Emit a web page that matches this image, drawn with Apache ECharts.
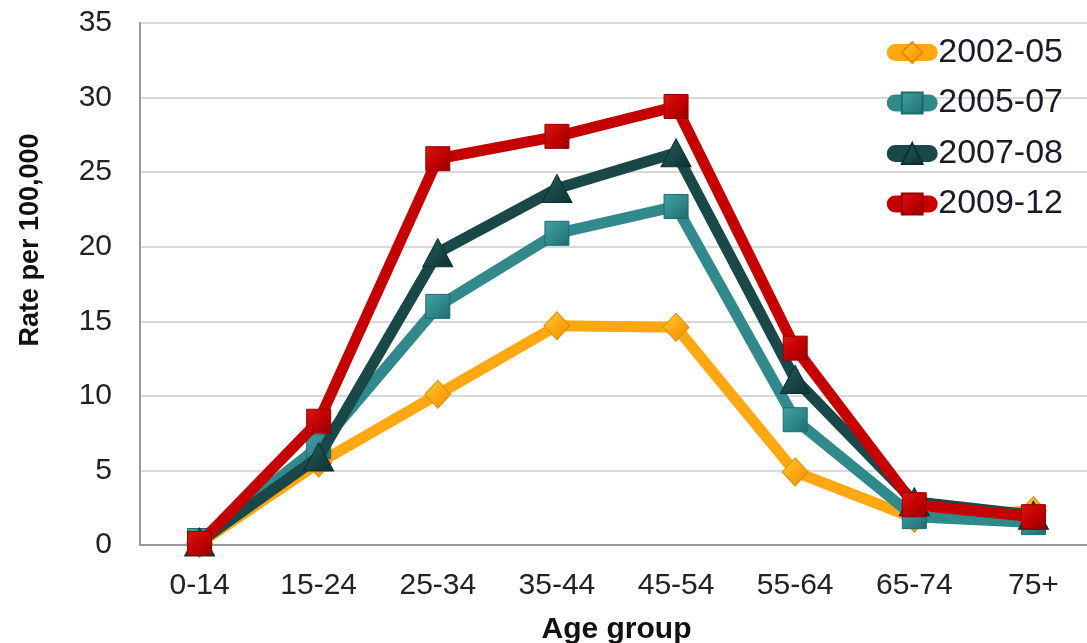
<!DOCTYPE html>
<html>
<head>
<meta charset="utf-8">
<script src="https://cdn.jsdelivr.net/npm/echarts@6/dist/echarts.min.js"></script>
<style>
  html, body { margin: 0; padding: 0; background: #fff; }
  #chart { width: 1087px; height: 643px; }
</style>
</head>
<body>
<div id="chart"></div>
<script>
// Age groups along the x axis
const ageGroups = ['0-14', '15-24', '25-34', '35-44', '45-54', '55-64', '65-74', '75+'];

// Rate per 100,000 by period
const rate2002_05 = [0.1, 5.5, 10.1, 14.7, 14.6, 4.9, 1.8, 2.3];
const rate2005_07 = [0.3, 6.6, 16.0, 20.9, 22.7, 8.4, 1.9, 1.5];
const rate2007_08 = [0.2, 5.9, 19.6, 23.9, 26.3, 11.1, 2.9, 2.0];
const rate2009_12 = [0.1, 8.3, 25.9, 27.4, 29.4, 13.2, 2.7, 1.9];

const periods = ['2002-05', '2005-07', '2007-08', '2009-12'];
const yTicks = { min: 0, max: 35, interval: 5 };

const styles = [
  { color: '#FFA812', light: '#FFD040', dark: '#E08E00', symbol: 'diamond', size: [26, 28] },
  { color: '#31898C', light: '#45A2A5', dark: '#1E6B6E', symbol: 'rect', size: 24 },
  { color: '#1A4848', light: '#2A5E5E', dark: '#0D3030', symbol: 'triangle', size: [30, 28] },
  { color: '#C40000', light: '#D81818', dark: '#940000', symbol: 'rect', size: 24 }
];
const values = [rate2002_05, rate2005_07, rate2007_08, rate2009_12];

// Bevelled look for the markers: light upper-left, darker lower-right
function bevel(s) {
  return new echarts.graphic.LinearGradient(0, 0, 1, 1, [
    { offset: 0, color: s.light },
    { offset: 0.5, color: s.color },
    { offset: 1, color: s.dark }
  ]);
}

const chart = echarts.init(document.getElementById('chart'), null, { renderer: 'canvas' });

chart.setOption({
  backgroundColor: '#ffffff',
  animation: false,
  textStyle: { fontFamily: 'Liberation Sans, Arial, sans-serif' },
  grid: { left: 140, right: -6, top: 23, bottom: 98, containLabel: false, outerBoundsMode: 'none' },
  legend: {
    orient: 'vertical',
    right: 19,
    top: 30,
    itemGap: 15.5,
    itemWidth: 34,
    itemHeight: 26,
    data: periods,
    lineStyle: { width: 17, cap: 'round' },
    textStyle: { fontSize: 34, lineHeight: 35, color: '#1a1a2a', padding: [0, 0, 0, 4] }
  },
  xAxis: {
    type: 'category',
    data: ageGroups,
    boundaryGap: true,
    axisLine: { lineStyle: { color: '#999999', width: 2 } },
    axisTick: { show: false },
    axisLabel: { fontSize: 30, color: '#222', margin: 26 },
    name: 'Age group',
    nameLocation: 'middle',
    nameGap: 70,
    nameTextStyle: { fontSize: 30, fontWeight: 'bold', color: '#111' }
  },
  yAxis: {
    type: 'value',
    min: yTicks.min,
    max: yTicks.max,
    interval: yTicks.interval,
    axisLine: { show: true, lineStyle: { color: '#999999', width: 2 } },
    axisTick: { show: false },
    splitLine: { lineStyle: { color: '#d9d9d9', width: 2 } },
    axisLabel: { fontSize: 30, color: '#222', margin: 28 },
    name: 'Rate per 100,000',
    nameLocation: 'middle',
    nameGap: 96,
    nameTextStyle: { fontSize: 27, fontWeight: 'bold', color: '#111', padding: [0, 0, 0, 88] }
  },
  series: periods.map((name, i) => ({
    name: name,
    type: 'line',
    data: values[i],
    symbol: styles[i].symbol,
    symbolSize: styles[i].size,
    showAllSymbol: true,
    lineStyle: { color: styles[i].color, width: 11 },
    itemStyle: {
      color: bevel(styles[i]),
      borderColor: styles[i].dark,
      borderWidth: 1
    },
    z: 2 + i
  }))
});
</script>
</body>
</html>
